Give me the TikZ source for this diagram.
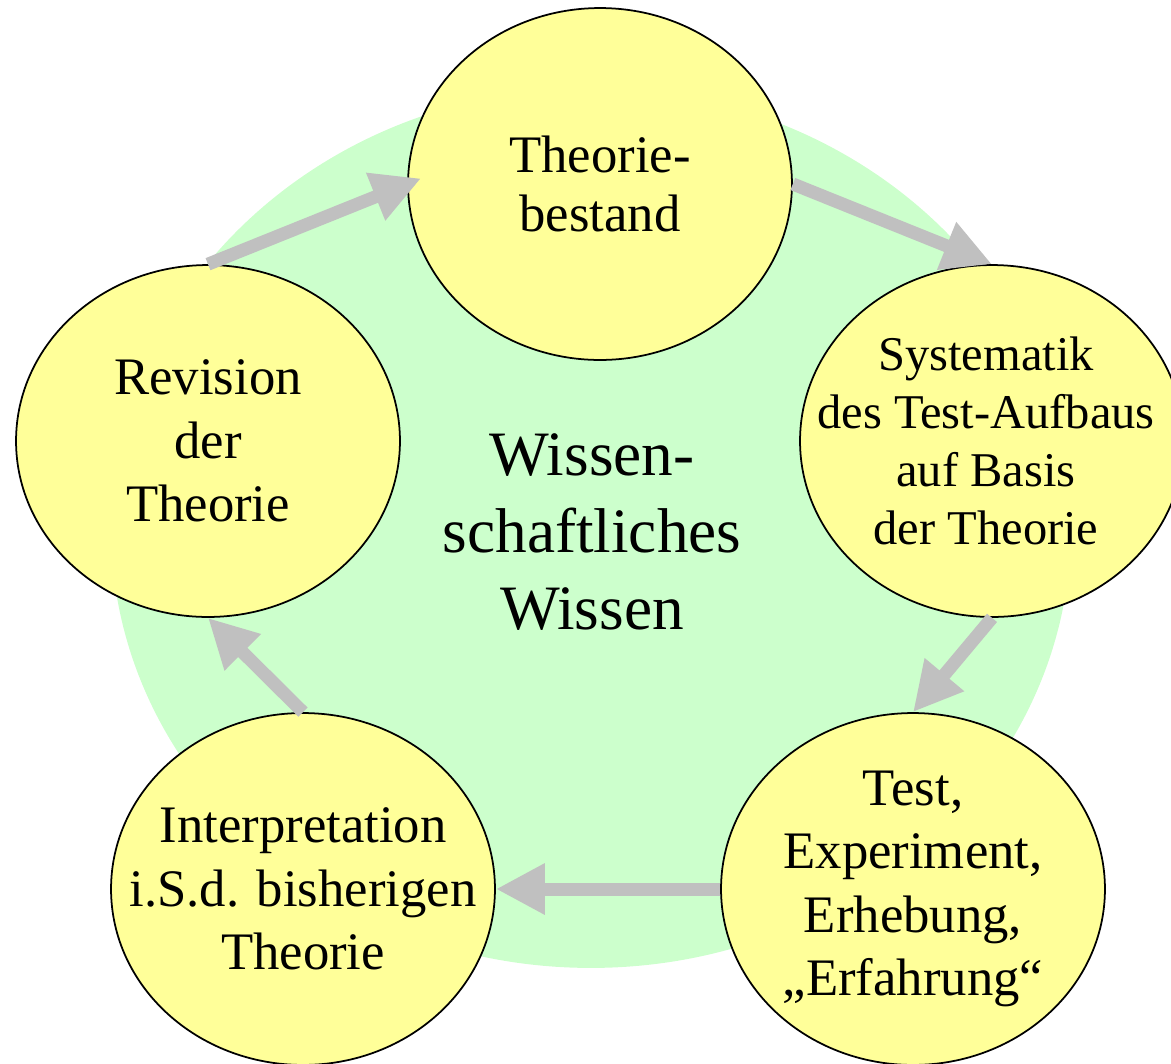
\documentclass[tikz,border=0pt]{standalone}
\usepackage{fontspec}
\setmainfont{Liberation Serif}
\usetikzlibrary{shapes.geometric,arrows.meta}
\definecolor{gruen}{HTML}{CCFFCC}
\definecolor{gelb}{HTML}{FFFF99}
\definecolor{grau}{HTML}{C0C0C0}
\tikzset{
	stufe/.style={ellipse,draw=black,line width=1pt,fill=gelb,minimum width=7.68cm,minimum height=7.04cm,inner sep=0pt},
	stext/.style={align=center,font=\fontsize{30}{36}\selectfont},
	pfeil/.style={draw=grau,line width=0.26cm,-{Triangle[length=0.98cm,width=0.96cm]}}
}
\begin{document}
\begin{tikzpicture}[x=0.02cm,y=-0.02cm]
	\useasboundingbox (0,0) rectangle (1171,1063);
	\path
	(600,184) coordinate (S_1)
	(992,441) coordinate (S_2)
	(913,889) coordinate (S_3)
	(303,889) coordinate (S_4)
	(208,441) coordinate (S_5)
	(592,532) coordinate (M)
	;
	\fill[gruen] (591,528) ellipse [x radius=9.6cm,y radius=8.8cm];
	\foreach \i in {1,...,5}{\node[stufe] (E_\i) at (S_\i) {};}
	\node[stext,font=\fontsize{30}{34}\selectfont] (T_1) at (E_1) {Theorie-\\bestand};
	\node[stext,font=\fontsize{27.6}{33}\selectfont] (T_2) at ([xshift=-0.12cm]E_2.center) {Systematik\\des Test-Aufbaus\\auf Basis\\der Theorie};
	\node[stext] (T_3) at (E_3) {Test,\\Experiment,\\Erhebung,\\„Erfahrung“};
	\node[stext] (T_4) at (E_4) {Interpretation\\i.S.d. bisherigen\\Theorie};
	\node[stext] (T_5) at (E_5) {Revision\\der\\Theorie};
	\node[align=center,font=\fontsize{36}{43.6}\selectfont] (W) at (M) {Wissen-\\schaftliches\\Wissen};
	\draw[pfeil,shorten >=-0.3cm] (E_5.north) -- (E_1.west);
	\draw[pfeil] (E_1.east) -- (E_2.north);
	\draw[pfeil] (E_2.south) -- (E_3.north);
	\draw[pfeil] (E_3.west) -- (E_4.east);
	\draw[pfeil] (E_4.north) -- (E_5.south);
\end{tikzpicture}
\end{document}
